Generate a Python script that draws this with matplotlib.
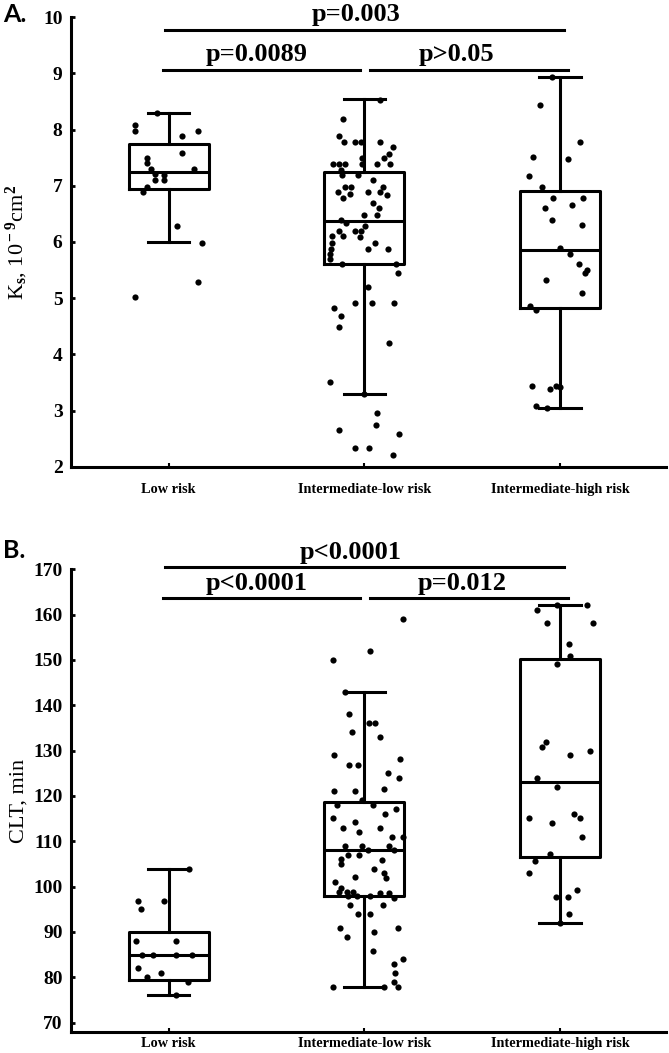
import matplotlib
matplotlib.use('Agg')
import matplotlib.pyplot as plt
from matplotlib.ticker import MultipleLocator

plt.rcParams['font.family'] = 'Liberation Serif'
plt.rcParams['font.weight'] = 'bold'
plt.rcParams['mathtext.fontset'] = 'custom'
plt.rcParams['mathtext.rm'] = 'Liberation Serif:bold'
plt.rcParams['mathtext.it'] = 'Liberation Serif:bold'
plt.rcParams['mathtext.bf'] = 'Liberation Serif:bold'

groups = ['Low risk', 'Intermediate-low risk', 'Intermediate-high risk']

# --- panel A: Ks, 10^-9 cm^2 ---
ks_q1 = [6.95, 5.60, 4.82]
ks_med = [7.25, 6.37, 5.85]
ks_q3 = [7.75, 7.25, 6.90]
ks_lo = [6.00, 3.30, 3.04]
ks_hi = [8.30, 8.55, 8.93]

ks_low_dx = [-0.06, -0.17, -0.17, 0.07, 0.15, 0.07, -0.11, -0.11, -0.09, -0.07, -0.07,
             -0.025, -0.025, 0.13, -0.11, -0.13, 0.04, 0.17, 0.15, -0.17]
ks_low = [8.29, 8.08, 7.98, 7.89, 7.98, 7.58, 7.49, 7.40, 7.30, 7.21, 7.10,
          7.19, 7.10, 7.30, 6.98, 6.89, 6.29, 5.98, 5.29, 5.02]

ks_il_dx = [0.08, -0.11, -0.13, -0.105, -0.046, -0.017, 0.082, 0.145, 0.128, 0.10,
            -0.012, -0.158, -0.128, -0.10, -0.012, 0.065, 0.133, -0.12, -0.114, -0.034,
            0.043, -0.10, -0.068, 0.094, -0.136, -0.073, 0.017, 0.082, 0.114, -0.11,
            0.046, 0.077, 0.0, 0.065, -0.12, -0.093, 0.005, -0.13, -0.046, -0.017,
            -0.165, -0.11, -0.02, -0.167, 0.056, -0.17, 0.017, 0.122, -0.175, -0.178,
            -0.116, 0.16, 0.17, 0.017, -0.153, -0.046, 0.039, 0.15, -0.12, -0.13,
            0.128, -0.175, 0.0, 0.065, 0.06, -0.128, 0.175, -0.05, 0.022, 0.148]
ks_il = [8.52, 8.19, 7.89, 7.78, 7.78, 7.78, 7.78, 7.69, 7.57, 7.49,
         7.49, 7.38, 7.38, 7.38, 7.38, 7.38, 7.38, 7.28, 7.19, 7.19,
         7.10, 6.98, 6.98, 6.98, 6.89, 6.86, 6.89, 6.89, 6.84, 6.78,
         6.70, 6.60, 6.48, 6.48, 6.40, 6.34, 6.28, 6.19, 6.19, 6.19,
         6.11, 6.11, 6.09, 5.98, 5.98, 5.88, 5.88, 5.88, 5.78, 5.69,
         5.60, 5.60, 5.44, 5.19, 4.83, 4.91, 4.91, 4.92, 4.68, 4.48,
         4.21, 3.51, 3.30, 2.96, 2.75, 2.65, 2.59, 2.33, 2.33, 2.21]

ks_ih_dx = [-0.04, -0.10, 0.10, -0.14, 0.04, -0.16, -0.09, -0.036, 0.117, -0.077,
            0.063, -0.042, 0.11, 0.0, 0.051, 0.097, 0.14, 0.13, -0.07, 0.11,
            -0.153, -0.124, -0.145, -0.05, -0.02, 0.0, -0.124, -0.065]
ks_ih = [8.94, 8.43, 7.78, 7.51, 7.47, 7.17, 6.98, 6.78, 6.78, 6.60,
         6.65, 6.39, 6.31, 5.90, 5.78, 5.60, 5.50, 5.44, 5.32, 5.10,
         4.86, 4.79, 3.44, 3.38, 3.43, 3.41, 3.08, 3.04]

# --- panel B: CLT, min ---
clt_q1 = [79.4, 98.0, 106.6]
clt_med = [85.0, 108.1, 123.0]
clt_q3 = [90.0, 118.6, 150.1]
clt_lo = [76.1, 77.9, 91.9]
clt_hi = [104.0, 142.9, 162.1]

clt_low_dx = [0.106, -0.158, -0.143, -0.025, -0.165, 0.037, -0.135, -0.08, 0.037,
              0.12, -0.158, -0.11, -0.04, 0.037, 0.10]
clt_low = [104.0, 96.9, 95.0, 96.9, 88.0, 88.0, 84.9, 84.9, 84.9,
           84.9, 82.0, 80.0, 80.9, 76.1, 79.0]

clt_il_dx = [0.199, 0.03, -0.158, -0.097, -0.08, 0.022, 0.056, -0.063, 0.082, -0.153,
             0.18, -0.08, -0.034, 0.12, 0.175, 0.10, -0.153, -0.05, -0.014, -0.14,
             0.043, 0.16, 0.105, -0.158, -0.046, -0.11, -0.025, 0.082, 0.14, 0.196,
             -0.097, -0.014, 0.124, 0.153, 0.017, -0.085, -0.03, -0.12, 0.088, -0.117,
             0.047, 0.10, -0.05, 0.11, -0.148, -0.12, -0.13, -0.09, -0.056, -0.037,
             -0.085, 0.029, 0.082, 0.128, 0.15, -0.073, 0.094, -0.034, 0.03, -0.124,
             0.17, 0.048, -0.09, 0.043, 0.20, 0.15, 0.156, 0.15, -0.158, 0.10, 0.17]
clt_il = [159.0, 152.0, 150.0, 142.9, 138.0, 136.0, 136.0, 134.0, 132.9, 129.0,
          128.1, 126.8, 126.8, 125.0, 123.9, 121.5, 121.1, 121.1, 119.0, 117.9,
          117.9, 117.1, 116.0, 115.1, 114.2, 112.9, 112.0, 112.9, 110.9, 110.9,
          109.0, 109.0, 109.0, 108.1, 108.1, 107.0, 107.0, 106.0, 105.9, 104.9,
          103.9, 103.1, 102.1, 102.0, 101.0, 99.8, 98.9, 98.9, 98.9, 98.0,
          98.0, 98.0, 98.7, 98.7, 97.4, 95.9, 95.9, 94.0, 94.0, 90.8,
          90.8, 89.9, 88.8, 85.8, 84.0, 82.9, 81.0, 79.0, 77.8, 77.8, 77.8]

clt_ih_dx = [-0.117, -0.016, 0.139, -0.067, 0.17, 0.046, 0.051, -0.013, -0.07, -0.092,
             0.051, 0.152, -0.117, -0.013, -0.156, -0.041, 0.073, 0.102, 0.114, -0.053,
             -0.13, -0.156, 0.085, -0.019, 0.041, 0.046, 0.0]
clt_ih = [161.0, 162.1, 162.1, 158.1, 158.1, 153.5, 150.9, 149.0, 132.0, 130.9,
          129.0, 130.0, 123.9, 121.9, 115.1, 114.0, 116.0, 115.1, 110.9, 107.1,
          105.7, 102.9, 99.2, 97.8, 97.8, 94.0, 91.9]

LW = 2.2


def box_panel(ax, q1, med, q3, lo, hi, points, ylim, ystep, xpad):
    stats = [dict(q1=q1[i], med=med[i], q3=q3[i], whislo=lo[i], whishi=hi[i])
             for i in range(3)]
    line = dict(color='black', linewidth=LW)
    ax.bxp(stats, positions=[1, 2, 3], widths=0.41, capwidths=0.21, showfliers=False,
           boxprops=line, whiskerprops=line, capprops=line, medianprops=line)
    for i, (dx, ys) in enumerate(points):
        ax.scatter([i + 1 + d for d in dx], ys, s=20, color='black', zorder=3,
                   linewidths=0)
    ax.set_xlim(0.5, 3.54)
    ax.set_ylim(*ylim)
    ax.yaxis.set_major_locator(MultipleLocator(ystep))
    ax.set_xticks([1, 2, 3])
    ax.set_xticklabels(groups, fontsize=10.3)
    for side in ['top', 'right']:
        ax.spines[side].set_visible(False)
    for side in ['left', 'bottom']:
        ax.spines[side].set_linewidth(LW)
    ax.tick_params(axis='y', direction='in', length=3, width=2, labelsize=14, pad=6)
    ax.tick_params(axis='x', direction='in', length=3, width=1.5, pad=xpad)


def bracket(ax, x0, x1, y, label, tx, off):
    ax.plot([x0, x1], [y, y], color='black', linewidth=LW, clip_on=False)
    ax.text(tx, y + off, label, ha='center', va='bottom', fontsize=19,
            clip_on=False)


fig = plt.figure(figsize=(6.69, 10.53), dpi=100)

axA = fig.add_axes([0.106, 0.5568, 0.889, 0.4268])
box_panel(axA, ks_q1, ks_med, ks_q3, ks_lo, ks_hi,
          [(ks_low_dx, ks_low), (ks_il_dx, ks_il), (ks_ih_dx, ks_ih)], (2, 10), 1, 12)
bracket(axA, 0.98, 3.02, 9.78, 'p=0.003', 1.96, 0.06)
bracket(axA, 0.97, 1.98, 9.07, 'p=0.0089', 1.45, 0.06)
bracket(axA, 2.03, 3.04, 9.07, 'p>0.05', 2.47, 0.06)
axA.set_ylabel(r'K$_{\rm s}$, 10$^{\rm -9}$cm$^{\rm 2}$', fontsize=16)
axA.yaxis.set_label_coords(-0.068, 0.5)

axB = fig.add_axes([0.106, 0.0202, 0.889, 0.4392])
box_panel(axB, clt_q1, clt_med, clt_q3, clt_lo, clt_hi,
          [(clt_low_dx, clt_low), (clt_il_dx, clt_il), (clt_ih_dx, clt_ih)], (68, 170), 10, 4)
bracket(axB, 0.98, 3.02, 170.4, 'p<0.0001', 1.93, 0.8)
bracket(axB, 0.97, 1.98, 163.6, 'p<0.0001', 1.45, 0.8)
bracket(axB, 2.03, 3.04, 163.6, 'p=0.012', 2.5, 0.8)
axB.set_ylabel('CLT, min', fontsize=16)
axB.yaxis.set_label_coords(-0.072, 0.5)

fig.text(0.004, 0.997, 'A.', family='Lato', weight='bold', fontsize=18, va='top')
fig.text(0.004, 0.488, 'B.', family='Lato', weight='bold', fontsize=18, va='top')

fig.savefig('out.png', dpi=100)
